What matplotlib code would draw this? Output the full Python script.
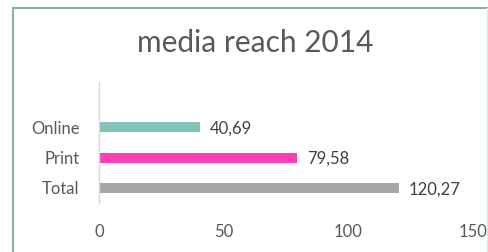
import matplotlib
matplotlib.use("Agg")
import matplotlib.pyplot as plt
from matplotlib.lines import Line2D

categories = ["Total", "Print", "Online"]
values = [120.27, 79.58, 40.69]
value_labels = ["120,27", "79,58", "40,69"]
colors = ["#a6a6a6", "#fc3fb4", "#80c3b8"]
xticks = [0, 50, 100, 150]
title = "media reach 2014"

plt.rcParams['font.family'] = ['Lato', 'DejaVu Sans']

fig = plt.figure(figsize=(4.89, 2.52), dpi=100)
fig.patch.set_facecolor("white")

# frame (left and top edges clearly visible, faint right edge)
W, H = 489, 252
fx, fy = 13.5 / W, 1 - 7.5 / H
fig.add_artist(Line2D([fx, fx], [0, fy], transform=fig.transFigure,
                      color="#8fb0a9", linewidth=1.5))
fig.add_artist(Line2D([fx, 1], [fy, fy], transform=fig.transFigure,
                      color="#8fb0a9", linewidth=1.5))
fig.add_artist(Line2D([487.5 / W, 487.5 / W], [0, fy], transform=fig.transFigure,
                      color="#e3eae8", linewidth=1))

ax = fig.add_axes([99 / W, 1 - 203 / H, (473 - 99) / W, (203 - 82) / H])
ypos = list(range(len(categories)))
ax.barh(ypos, values, height=0.33, color=colors)
ax.set_xlim(0, 150)
ax.set_ylim(-0.5, 3.5)
ax.set_yticks(ypos)
ax.set_yticklabels(categories)
ax.set_xticks(xticks)
ax.set_xticklabels([str(t) for t in xticks])
ax.tick_params(axis="both", length=0, labelsize=12, colors="#595959")
ax.tick_params(axis="y", pad=14)
ax.tick_params(axis="x", pad=15)
for s in ["top", "right", "bottom"]:
    ax.spines[s].set_visible(False)
ax.spines["left"].set_color("#d9d9d9")
ax.spines["left"].set_linewidth(1)

for y, v, lab in zip(ypos, values, value_labels):
    ax.annotate(lab, (v, y), xytext=(7, -1), textcoords="offset points",
                va="center", ha="left", fontsize=12, color="#404040")

fig.text(255 / W, 1 - 43 / H, title, ha="center", va="center",
         fontsize=21.5, color="#595959")

fig.savefig("out.png", dpi=100)
